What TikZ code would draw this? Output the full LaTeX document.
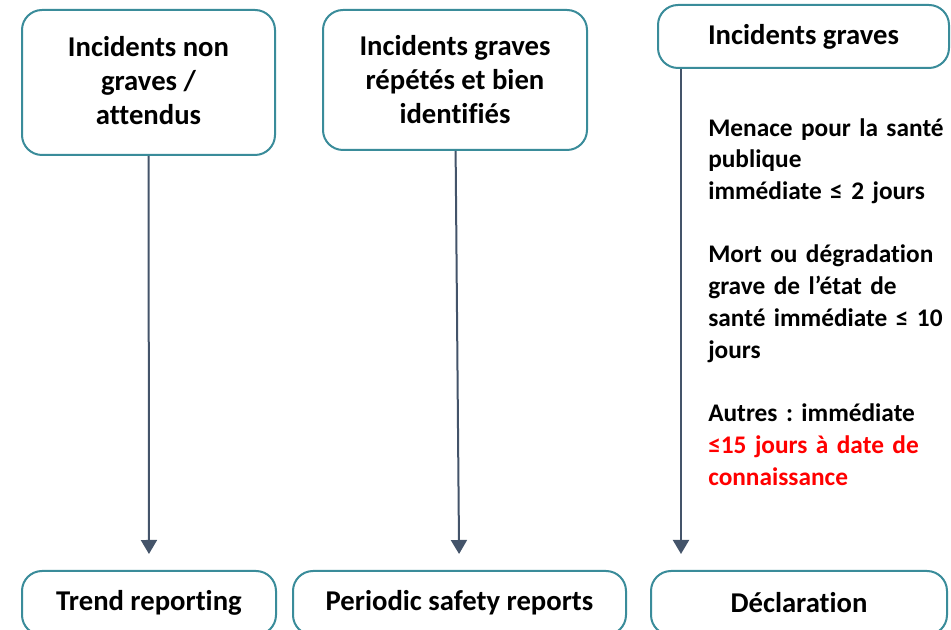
\documentclass[tikz,border=0pt]{standalone}
\usepackage{fontspec}
\setmainfont{Carlito}[Ligatures={NoCommon}]
\usepackage{xcolor}
\definecolor{boxTeal}{RGB}{58, 140, 154}
\definecolor{arrowSlate}{RGB}{68, 84, 106}
\definecolor{alertRed}{RGB}{255, 0, 0}
\usepackage{tikz}
\usetikzlibrary{
    arrows.meta,
    calc
}
\newcommand{\pxu}{0.75pt}
\frenchspacing

\begin{document}
\begin{tikzpicture}[
    x=0.75pt, y=-0.75pt,
    incBox/.style={
        rectangle, rounded corners=15pt,
        draw=boxTeal, line width=1.5pt,
        fill=white, text=black,
        align=center, font=\fontsize{21.5}{25.5}\selectfont\bfseries,
        inner sep=0pt
    },
    outBox/.style={
        incBox, minimum height=64*\pxu
    },
    flowArrow/.style={
        -{Triangle[width=12pt, length=10.5pt]}, line width=1.5pt, draw=arrowSlate
    },
    noteText/.style={
        anchor=north west, align=left, text width=250*\pxu,
        font=\fontsize{19}{23.8}\selectfont\bfseries, inner sep=0pt
    }
]

    % Page frame
    \useasboundingbox (0,0) rectangle (951,630);
    \clip (0,0) rectangle (951,630);

    % Top boxes
    \node[incBox, minimum width=253*\pxu, minimum height=145*\pxu] (nonGrave) at (148.5, 82.5) {Incidents non\\graves /\\attendus\vphantom{p}};
    \node[incBox, minimum width=264*\pxu, minimum height=140*\pxu] (graveRep) at (455, 80) {Incidents graves\\répétés et bien\\identifiés};
    \node[incBox, minimum width=291*\pxu, minimum height=63*\pxu] (grave) at (803.5, 36.5) {Incidents graves};

    % Delays for serious incidents
    \node[noteText] (delays) at (708, 118) {Menace pour la santé\\publique\\immédiate ≤ 2 jours\\[23.8pt]Mort ou dégradation\\grave de l’état de\\santé immédiate ≤ 10\\jours\\[23.8pt]Autres : immédiate\\\textcolor{alertRed}{≤15 jours à date de}\\\textcolor{alertRed}{connaissance}};

    % Bottom boxes
    \node[outBox, minimum width=254*\pxu] (trend) at (149, 603) {Trend reporting};
    \node[outBox, minimum width=333*\pxu] (periodic) at (459.5, 603) {Periodic safety reports};
    \node[outBox, minimum width=296*\pxu] (decl) at (799, 603) {Déclaration};

    % Arrows
    \draw[flowArrow, shorten >=12pt] (nonGrave) -- (trend);
    \draw[flowArrow, shorten >=12pt] (graveRep) -- (periodic);
    \draw[flowArrow, shorten >=12pt] ([xshift=18pt]grave.south west) -- ([xshift=23.25pt]decl.north west);

\end{tikzpicture}
\end{document}
